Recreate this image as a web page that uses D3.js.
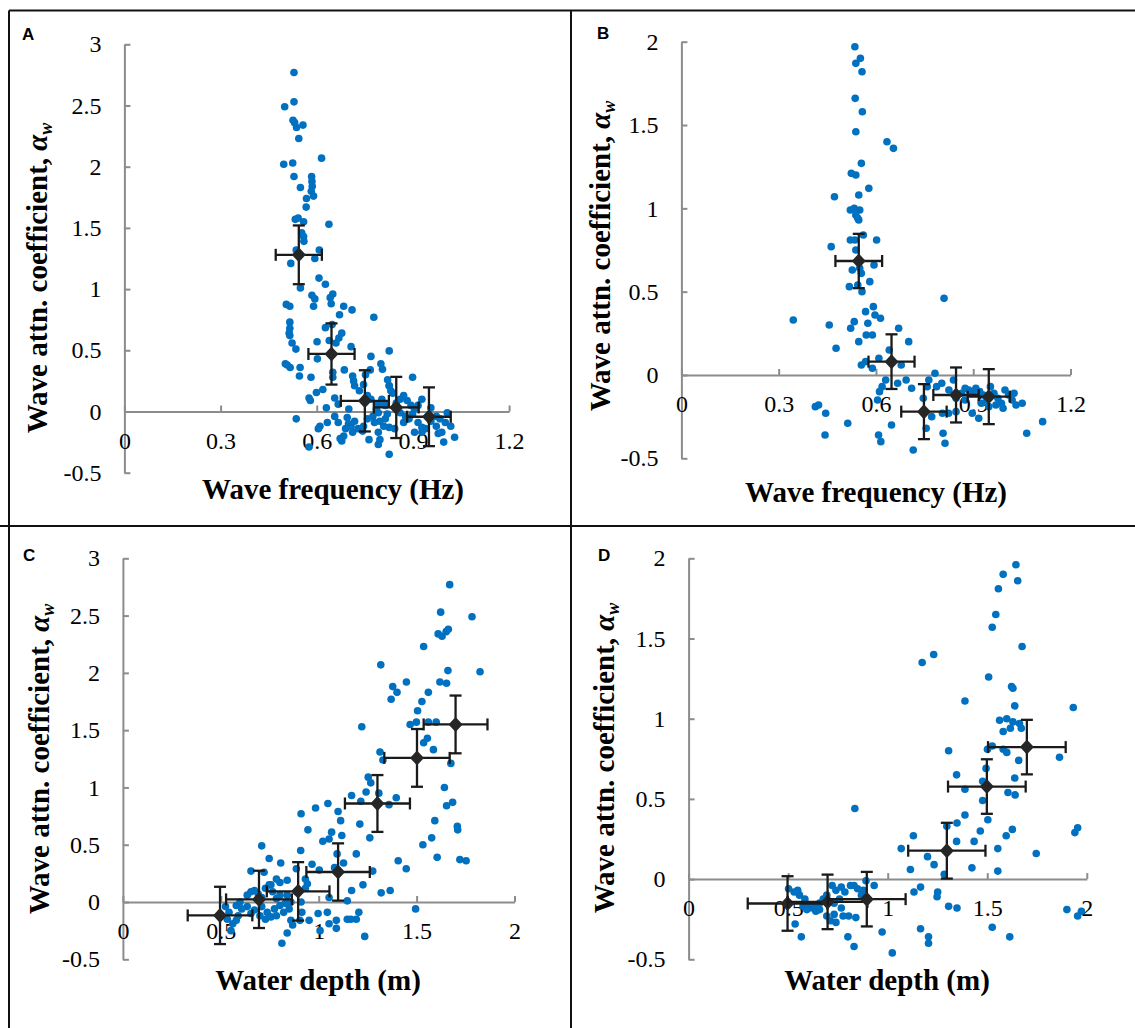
<!DOCTYPE html>
<html>
<head>
<meta charset="utf-8">
<script src="https://cdn.jsdelivr.net/npm/d3@7"></script>
<style>
  body { margin: 0; background: #fff; }
  svg { display: block; }
</style>
</head>
<body>
<div id="chart"></div>
<script>
// ---- data ----
// A: wave frequency (Hz) vs attenuation coefficient
const ptsA = [
  [0.529,2.77],[0.529,2.53],[0.500,2.49],[0.526,2.38],[0.531,2.36],[0.537,2.32],[0.557,2.34],[0.544,2.23],
  [0.615,2.07],[0.497,2.02],[0.525,2.03],[0.529,1.92],[0.584,1.92],[0.585,1.88],[0.586,1.84],[0.583,1.80],
  [0.549,1.83],[0.590,1.76],[0.568,1.74],[0.567,1.67],[0.533,1.57],[0.542,1.58],[0.559,1.55],[0.638,1.53],
  [0.553,1.46],[0.559,1.43],[0.560,1.39],[0.536,1.32],[0.608,1.32],[0.594,1.25],[0.519,1.21],[0.607,1.09],
  [0.627,1.04],[0.549,1.01],[0.585,0.95],[0.594,0.92],[0.590,0.86],[0.650,0.96],[0.642,0.93],[0.645,0.88],
  [0.505,0.875],[0.516,0.86],[0.684,0.86],[0.710,0.83],[0.671,0.79],[0.778,0.77],[0.516,0.73],[0.516,0.68],
  [0.514,0.64],[0.516,0.62],[0.648,0.71],[0.627,0.685],[0.678,0.64],[0.669,0.60],[0.660,0.56],[0.639,0.58],
  [0.601,0.57],[0.523,0.56],[0.535,0.51],[0.707,0.53],[0.826,0.495],[0.769,0.45],[0.602,0.43],[0.502,0.39],
  [0.508,0.38],[0.517,0.36],[0.548,0.36],[0.546,0.29],[0.800,0.39],[0.805,0.345],[0.686,0.34],[0.767,0.34],
  [0.650,0.32],[0.650,0.28],[0.712,0.29],[0.715,0.25],[0.718,0.21],[0.733,0.17],[0.899,0.28],[0.582,0.28],
  [0.821,0.26],[0.826,0.21],[0.831,0.17],[0.752,0.30],[0.746,0.22],[0.619,0.18],[0.599,0.155],[0.576,0.11],
  [0.580,0.09],[0.656,0.11],[0.667,0.06],[0.630,0.03],[0.536,-0.06],[0.928,0.10],[0.916,0.05],[0.956,0.03],
  [0.695,-0.05],[0.699,-0.10],[0.690,-0.14],[0.684,-0.20],[0.673,-0.22],[0.678,-0.24],[0.718,-0.08],[0.707,-0.12],
  [0.729,-0.14],[0.712,-0.17],[0.743,-0.16],[0.746,-0.12],[0.758,-0.06],[0.775,-0.04],[0.792,-0.01],[0.780,-0.09],
  [0.797,-0.08],[0.814,-0.06],[0.809,-0.12],[0.826,-0.13],[0.843,-0.14],[0.792,-0.17],[0.797,-0.23],[0.792,-0.27],
  [0.826,-0.35],[0.763,-0.23],[0.610,-0.12],[0.605,-0.14],[0.576,-0.29],[0.633,-0.09],[0.848,0.07],[0.860,0.10],
  [0.871,0.13],[0.882,0.09],[0.894,0.05],[0.905,0.02],[0.860,-0.01],[0.877,-0.04],[0.888,-0.06],[0.899,-0.02],
  [0.916,-0.09],[0.928,-0.13],[0.939,-0.14],[0.956,-0.08],[0.973,-0.04],[0.984,-0.06],[0.973,-0.12],[0.990,-0.17],
  [0.979,-0.18],[1.001,-0.09],[1.018,-0.12],[0.996,-0.25],[1.030,-0.21],[0.928,-0.17],[0.905,-0.17],[0.826,0.21],
  [0.837,0.15],[0.848,0.05],[0.814,0.05],[0.803,0.10],[0.792,0.06],[0.769,0.10],[0.758,0.13],[0.786,0.02],
  [0.820,-0.02],[1.007,-0.01],[0.871,-0.09],[0.700,0.02],[0.667,-0.09],[0.656,-0.04]
];
// [x, y, x error, y error]
const meansA = [[0.544,1.28,0.072,0.24],[0.646,0.47,0.072,0.25],[0.750,0.087,0.075,0.25],[0.848,0.033,0.07,0.25],[0.950,-0.043,0.068,0.24]];

// B: wave frequency (Hz) vs attenuation coefficient
const ptsB = [
  [0.535,1.97],[0.538,1.87],[0.552,1.90],[0.557,1.82],[0.536,1.66],[0.558,1.58],[0.538,1.46],[0.634,1.40],
  [0.654,1.36],[0.555,1.27],[0.524,1.21],[0.538,1.20],[0.578,1.12],[0.472,1.07],[0.547,1.08],[0.521,0.99],
  [0.533,1.00],[0.550,0.99],[0.538,0.96],[0.544,0.94],[0.547,0.93],[0.561,0.84],[0.521,0.81],[0.535,0.81],
  [0.602,0.81],[0.462,0.77],[0.538,0.75],[0.594,0.66],[0.527,0.63],[0.555,0.61],[0.550,0.64],[0.581,0.56],
  [0.518,0.53],[0.544,0.54],[0.557,0.50],[0.810,0.46],[0.592,0.41],[0.568,0.38],[0.597,0.36],[0.614,0.34],
  [0.345,0.33],[0.533,0.32],[0.456,0.30],[0.575,0.31],[0.522,0.28],[0.670,0.28],[0.570,0.24],[0.589,0.24],
  [0.547,0.20],[0.701,0.20],[0.477,0.16],[0.641,0.15],[0.609,0.10],[0.568,0.08],[0.555,0.06],[0.589,0.04],
  [0.678,0.06],[0.630,-0.03],[0.667,-0.05],[0.693,-0.03],[0.710,-0.08],[0.619,-0.07],[0.611,-0.10],[0.605,-0.15],
  [0.782,0.01],[0.763,-0.03],[0.758,-0.07],[0.787,-0.07],[0.803,-0.05],[0.839,-0.03],[0.825,-0.09],[0.413,-0.19],
  [0.423,-0.18],[0.445,-0.23],[0.443,-0.36],[0.513,-0.29],[0.608,-0.36],[0.615,-0.40],[0.648,-0.30],[0.715,-0.45],
  [0.755,-0.32],[0.772,-0.25],[0.805,-0.23],[0.824,-0.23],[0.847,-0.22],[0.807,-0.35],[0.813,-0.41],[0.897,-0.23],
  [0.917,-0.26],[0.746,-0.14],[0.864,-0.11],[0.875,-0.08],[0.886,-0.09],[0.897,-0.11],[0.908,-0.08],[0.920,-0.10],
  [0.931,-0.12],[0.942,-0.15],[0.953,-0.07],[0.964,-0.11],[0.976,-0.14],[0.987,-0.17],[0.998,-0.09],[1.009,-0.12],
  [1.020,-0.15],[0.992,-0.20],[0.970,-0.18],[1.026,-0.11],[1.032,-0.18],[1.051,-0.17],[1.114,-0.28],[1.065,-0.35],
  [0.875,-0.15],[0.925,-0.17],[0.948,-0.19],[0.847,-0.14]
];
const meansB = [[0.547,0.684,0.072,0.163],[0.648,0.08,0.071,0.164],[0.748,-0.22,0.07,0.165],[0.847,-0.12,0.07,0.165],[0.948,-0.13,0.065,0.165]];

// C: water depth (m) vs attenuation coefficient
const ptsC = [
  [1.669,2.77],[1.623,2.53],[1.783,2.49],[1.610,2.34],[1.630,2.32],[1.651,2.36],[1.662,2.38],[1.536,2.23],
  [1.317,2.07],[1.660,2.02],[1.824,2.01],[1.448,1.92],[1.619,1.92],[1.653,1.91],[1.378,1.88],[1.400,1.83],
  [1.370,1.77],[1.560,1.83],[1.527,1.75],[1.505,1.67],[1.467,1.55],[1.499,1.57],[1.560,1.57],[1.600,1.57],
  [1.220,1.53],[1.555,1.43],[1.536,1.39],[1.586,1.33],[1.313,1.31],[1.328,1.24],[1.675,1.21],[1.253,1.09],
  [1.266,1.04],[1.242,0.96],[1.307,0.95],[1.642,1.00],[1.168,0.93],[1.396,0.91],[1.215,0.88],[1.359,0.85],
  [1.653,0.84],[1.684,0.87],[1.047,0.86],[0.984,0.82],[0.910,0.77],[1.099,0.79],[1.112,0.71],[1.593,0.71],
  [1.210,0.68],[1.708,0.66],[1.710,0.63],[0.945,0.63],[1.066,0.61],[1.053,0.55],[1.021,0.53],[1.118,0.58],
  [1.261,0.56],[1.577,0.56],[1.532,0.50],[0.709,0.49],[0.908,0.45],[1.094,0.42],[1.192,0.42],[1.605,0.39],
  [0.747,0.38],[1.721,0.37],[1.753,0.36],[1.406,0.36],[1.127,0.34],[0.806,0.34],[0.966,0.33],[1.081,0.30],
  [1.447,0.29],[0.654,0.27],[0.721,0.26],[1.276,0.27],[0.886,0.29],[1.003,0.28],[0.932,0.20],[0.942,0.16],
  [0.932,0.12],[1.226,0.15],[1.168,0.10],[1.319,0.08],[1.365,0.10],[1.146,0.01],[1.053,0.04],[1.495,-0.06],
  [1.205,-0.09],[1.192,-0.15],[1.164,-0.15],[1.146,-0.15],[1.235,-0.30],[0.812,-0.36],[0.839,-0.27],[1.044,-0.09],
  [0.997,-0.10],[1.090,-0.16],[1.053,-0.19],[1.090,-0.23],[1.007,-0.25],[0.951,-0.16],[0.914,-0.09],[0.904,-0.16],
  [0.867,-0.20],[0.858,-0.16],[0.524,-0.04],[0.542,-0.09],[0.533,-0.15],[0.561,-0.19],[0.552,-0.25],[0.579,-0.03],
  [0.598,0.00],[0.607,-0.06],[0.589,-0.12],[0.579,-0.16],[0.635,0.06],[0.654,0.09],[0.672,0.10],[0.691,0.07],
  [0.709,0.04],[0.728,0.12],[0.747,0.15],[0.765,0.09],[0.784,0.03],[0.802,0.06],[0.635,-0.04],[0.654,-0.10],
  [0.672,-0.07],[0.709,-0.04],[0.737,-0.09],[0.756,-0.13],[0.774,-0.06],[0.802,-0.03],[0.830,-0.01],[0.849,-0.06],
  [0.728,-0.15],[0.700,-0.12],[0.784,-0.12],[0.821,-0.09],[0.839,0.06],[0.858,0.00],[0.784,0.20],[0.839,0.19],
  [0.756,0.15],[0.802,0.17],[0.886,0.09],[0.910,0.00]
];
const meansC = [[0.496,-0.117,0.165,0.25],[0.695,0.023,0.168,0.25],[0.895,0.093,0.16,0.255],[1.099,0.262,0.162,0.25],[1.30,0.86,0.166,0.248],[1.502,1.258,0.167,0.252],[1.699,1.55,0.163,0.252]];

// D: water depth (m) vs attenuation coefficient
const ptsD = [
  [1.644,1.96],[1.580,1.90],[1.653,1.86],[1.556,1.81],[1.543,1.65],[1.525,1.57],[1.675,1.45],[1.231,1.40],
  [1.173,1.35],[1.507,1.26],[1.622,1.20],[1.629,1.19],[1.388,1.11],[1.932,1.07],[1.638,1.08],[1.562,0.99],
  [1.598,1.00],[1.629,0.98],[1.662,0.97],[1.580,0.92],[1.616,0.94],[1.671,0.94],[1.525,0.83],[1.501,0.81],
  [1.306,0.80],[1.580,0.81],[1.598,0.79],[1.863,0.76],[1.658,0.74],[1.346,0.65],[1.494,0.69],[1.638,0.63],
  [1.477,0.61],[1.388,0.56],[1.604,0.54],[1.640,0.525],[1.477,0.49],[0.835,0.44],[1.388,0.40],[1.503,0.37],
  [1.297,0.33],[1.348,0.35],[1.626,0.31],[1.954,0.32],[1.940,0.29],[1.465,0.30],[1.129,0.27],[1.346,0.235],
  [1.434,0.235],[1.595,0.27],[1.068,0.19],[1.553,0.19],[1.746,0.16],[1.200,0.14],[1.233,0.09],[1.423,0.07],
  [1.114,0.06],[1.553,0.05],[1.284,0.03],[1.165,-0.05],[1.132,-0.08],[1.251,-0.08],[1.248,-0.11],[1.306,-0.17],
  [1.348,-0.18],[1.900,-0.19],[1.973,-0.20],[1.954,-0.23],[1.525,-0.30],[1.613,-0.36],[1.165,-0.31],[1.205,-0.36],
  [1.205,-0.40],[1.023,-0.46],[0.972,-0.33],[0.891,-0.01],[0.932,-0.04],[0.831,-0.42],[0.800,-0.36],[0.566,-0.36],
  [0.535,-0.28],[0.502,-0.06],[0.530,-0.08],[0.557,-0.10],[0.548,-0.07],[0.584,-0.125],[0.603,-0.16],[0.621,-0.18],
  [0.639,-0.20],[0.658,-0.15],[0.676,-0.125],[0.694,-0.10],[0.721,-0.04],[0.740,-0.07],[0.767,-0.05],[0.785,-0.08],
  [0.813,-0.04],[0.831,-0.04],[0.849,-0.06],[0.868,-0.10],[0.877,-0.07],[0.575,-0.17],[0.594,-0.19],[0.630,-0.16],
  [0.658,-0.19],[0.731,-0.15],[0.758,-0.125],[0.767,-0.18],[0.694,-0.23],[0.712,-0.26],[0.740,-0.27],[0.776,-0.23],
  [0.804,-0.23],[0.840,-0.24],[0.731,-0.22]
];
const meansD = [[0.497,-0.152,0.2,0.17],[0.698,-0.142,0.2,0.17],[0.895,-0.125,0.195,0.17],[1.297,0.177,0.194,0.174],[1.498,0.577,0.195,0.17],[1.699,0.823,0.195,0.17]];

const freqTicks = [0, 0.3, 0.6, 0.9, 1.2];
const depthTicks = [0, 0.5, 1, 1.5, 2];
const yTicks3 = [-0.5, 0, 0.5, 1, 1.5, 2, 2.5, 3];
const yTicks2 = [-0.5, 0, 0.5, 1, 1.5, 2];

// ---- layout ----
const panels = [
  { tag: "A", pts: ptsA, means: meansA, xTicks: freqTicks, yTicks: yTicks3, xTitle: "Wave frequency (Hz)",
    xr: [124.4, 509.1], yr: [472.7, 44.3], tagAt: [22, 40], yTitleAt: [47, 278], xTitleAt: [333, 499] },
  { tag: "B", pts: ptsB, means: meansB, xTicks: freqTicks, yTicks: yTicks2, xTitle: "Wave frequency (Hz)",
    xr: [681.4, 1070.5], yr: [458.3, 41.7], tagAt: [597, 39], yTitleAt: [610, 256], xTitleAt: [876, 502] },
  { tag: "C", pts: ptsC, means: meansC, xTicks: depthTicks, yTicks: yTicks3, xTitle: "Water depth (m)",
    xr: [122.9, 514.5], yr: [959.3, 558.3], tagAt: [23, 561], yTitleAt: [49, 759], xTitleAt: [318, 990] },
  { tag: "D", pts: ptsD, means: meansD, xTicks: depthTicks, yTicks: yTicks2, xTitle: "Water depth (m)",
    xr: [688.6, 1086.8], yr: [959.3, 558.3], tagAt: [598, 561], yTitleAt: [614, 758], xTitleAt: [887, 990] }
];

const serif = "Liberation Serif, Times New Roman, serif";
const axisGrey = "#8c8c8c";

const svg = d3.select("#chart").append("svg")
    .attr("width", 1135)
    .attr("height", 1028);

// panel frame
const frame = svg.append("g")
    .attr("stroke", "#111")
    .attr("stroke-width", 2);
frame.append("line").attr("x1", 9).attr("x2", 1135).attr("y1", 10.5).attr("y2", 10.5);
frame.append("line").attr("x1", 9).attr("x2", 9).attr("y1", 10.5).attr("y2", 1028);
frame.append("line").attr("x1", 571).attr("x2", 571).attr("y1", 10.5).attr("y2", 1028);
frame.append("line").attr("x1", 0).attr("x2", 1135).attr("y1", 526).attr("y2", 526);

panels.forEach(p => {
  const g = svg.append("g").attr("class", `panel panel-${p.tag}`);

  const x = d3.scaleLinear()
    .domain([0, d3.max(p.xTicks)])
    .range(p.xr);

  const y = d3.scaleLinear()
    .domain([d3.min(p.yTicks), d3.max(p.yTicks)])
    .range(p.yr);

  // y axis, ticks pointing inwards
  const yAxis = g.append("g")
    .attr("transform", `translate(${x(0)},0)`)
    .call(d3.axisLeft(y)
      .tickValues(p.yTicks)
      .tickSizeInner(-6)
      .tickSizeOuter(0)
      .tickPadding(23)
      .tickFormat(d => String(d)));

  // x axis crossing at zero
  const xAxis = g.append("g")
    .attr("transform", `translate(0,${y(0)})`)
    .call(d3.axisBottom(x)
      .tickValues(p.xTicks)
      .tickSizeInner(-6)
      .tickSizeOuter(0)
      .tickFormat(d => String(d)));

  xAxis.selectAll(".tick text").attr("y", 37).attr("dy", null);

  [xAxis, yAxis].forEach(a => {
    a.attr("font-family", serif).attr("font-size", 24);
    a.select(".domain").attr("stroke", axisGrey).attr("stroke-width", 2);
    a.selectAll(".tick line").attr("stroke", axisGrey).attr("stroke-width", 2);
    a.selectAll(".tick text").attr("fill", "#000");
  });

  // scatter
  g.append("g").selectAll("circle")
    .data(p.pts)
    .enter().append("circle")
      .attr("cx", d => x(d[0]))
      .attr("cy", d => y(d[1]))
      .attr("r", 3.8)
      .attr("fill", "#0070c0");

  // binned means with error bars
  const m = g.append("g").selectAll("g")
    .data(p.means)
    .enter().append("g")
      .attr("stroke", "#1a1a1a")
      .attr("stroke-width", 2.3);

  m.append("line")
    .attr("x1", d => x(d[0])).attr("x2", d => x(d[0]))
    .attr("y1", d => y(d[1] - d[3])).attr("y2", d => y(d[1] + d[3]));
  m.append("line")
    .attr("x1", d => x(d[0] - d[2])).attr("x2", d => x(d[0] + d[2]))
    .attr("y1", d => y(d[1])).attr("y2", d => y(d[1]));
  [-1, 1].forEach(s => {
    m.append("line")
      .attr("x1", d => x(d[0]) - 6).attr("x2", d => x(d[0]) + 6)
      .attr("y1", d => y(d[1] + s * d[3])).attr("y2", d => y(d[1] + s * d[3]));
    m.append("line")
      .attr("x1", d => x(d[0] + s * d[2])).attr("x2", d => x(d[0] + s * d[2]))
      .attr("y1", d => y(d[1]) - 6).attr("y2", d => y(d[1]) + 6);
  });
  m.append("path")
    .attr("stroke", "none")
    .attr("fill", "#262626")
    .attr("d", d => {
      const cx = x(d[0]), cy = y(d[1]);
      return `M${cx},${cy - 7.5}L${cx + 7},${cy}L${cx},${cy + 7.5}L${cx - 7},${cy}Z`;
    });

  // titles
  g.append("text")
    .attr("x", p.xTitleAt[0])
    .attr("y", p.xTitleAt[1])
    .attr("text-anchor", "middle")
    .attr("font-family", serif)
    .attr("font-weight", "bold")
    .attr("font-size", 29)
    .text(p.xTitle);

  const yt = g.append("text")
    .attr("transform", `translate(${p.yTitleAt[0]},${p.yTitleAt[1]}) rotate(-90)`)
    .attr("text-anchor", "middle")
    .attr("font-family", serif)
    .attr("font-weight", "bold")
    .attr("font-size", 29);
  yt.append("tspan").text("Wave attn. coefficient, ");
  yt.append("tspan").attr("font-style", "italic").text("α");
  yt.append("tspan").attr("font-style", "italic").attr("font-size", 18).attr("dy", 5).text("w");

  g.append("text")
    .attr("x", p.tagAt[0])
    .attr("y", p.tagAt[1])
    .attr("font-family", "Liberation Sans, Arial, sans-serif")
    .attr("font-weight", "bold")
    .attr("font-size", 17)
    .text(p.tag);
});
</script>
</body>
</html>
